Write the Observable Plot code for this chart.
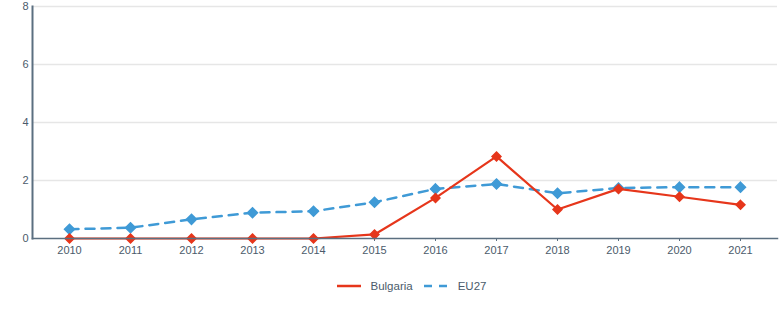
<!DOCTYPE html>
<html>
<head>
<meta charset="utf-8">
<script src="https://cdn.jsdelivr.net/npm/d3@7"></script>
<script src="https://cdn.jsdelivr.net/npm/@observablehq/plot@0.6"></script>
<style>
  html, body { margin: 0; padding: 0; background: #fff; }
  body { width: 784px; height: 314px; overflow: hidden; font-family: "Liberation Sans", Arial, sans-serif; }
  #legend { display: flex; justify-content: center; align-items: center; margin-top: 20px; padding-left: 38px; font-size: 11.5px; color: #4b5b6b; }
  .item { display: flex; align-items: center; margin: 0 5px; }
  .item svg { margin-right: 9px; }
</style>
</head>
<body>
<div id="chart"></div>
<div id="legend"></div>
<script>
const years = [2010, 2011, 2012, 2013, 2014, 2015, 2016, 2017, 2018, 2019, 2020, 2021];
const bulgaria = [0, 0, 0, 0, 0, 0.14, 1.40, 2.83, 1.00, 1.71, 1.44, 1.16];
const eu27 = [0.32, 0.37, 0.66, 0.89, 0.94, 1.25, 1.71, 1.88, 1.56, 1.74, 1.77, 1.77];
const yTicks = [0, 2, 4, 6, 8];
const seriesNames = ["Bulgaria", "EU27"];
const colors = ["#e6361b", "#3f9ad6"];

const data = [];
years.forEach((y, i) => {
  data.push({year: y, value: bulgaria[i], series: seriesNames[0]});
  data.push({year: y, value: eu27[i], series: seriesNames[1]});
});
const bg = data.filter(d => d.series === "Bulgaria");
const eu = data.filter(d => d.series === "EU27");

const axisColor = "#5b6f80";
const textColor = "#4b5b6b";

const chart = Plot.plot({
  width: 784,
  height: 260,
  marginLeft: 32,
  marginRight: 7,
  marginTop: 6,
  marginBottom: 22,
  style: {fontFamily: "Liberation Sans, Arial, sans-serif", fontSize: "11px", color: textColor, background: "#fff"},
  x: {type: "point", domain: years, padding: 0.59, label: null},
  y: {domain: [0, 8], label: null},
  color: {domain: seriesNames, range: colors},
  marks: [
    Plot.gridY(yTicks.filter(t => t > 0), {stroke: "#e6e6e6", strokeOpacity: 1, strokeWidth: 1.5}),
    Plot.axisY(yTicks, {tickSize: 0, tickPadding: 4, fill: textColor, label: null, tickFormat: d => String(d)}),
    Plot.axisX(years, {tickSize: 3, tickPadding: 5, stroke: axisColor, fill: textColor, label: null, tickFormat: d => String(d)}),
    Plot.line(eu, {x: "year", y: "value", stroke: colors[1], strokeWidth: 2.5, strokeDasharray: "9,7"}),
    Plot.dot(eu, {x: "year", y: "value", symbol: "diamond2", r: 4.5, fill: colors[1], stroke: colors[1]}),
    Plot.line(bg, {x: "year", y: "value", stroke: colors[0], strokeWidth: 2.2}),
    Plot.dot(bg, {x: "year", y: "value", symbol: "diamond2", r: 4, fill: colors[0], stroke: colors[0]}),
    Plot.frame({anchor: "left", stroke: axisColor, strokeWidth: 2}),
    Plot.frame({anchor: "bottom", stroke: axisColor, strokeWidth: 1.5})
  ]
});
document.getElementById("chart").appendChild(chart);

const legend = document.getElementById("legend");
seriesNames.forEach((name, i) => {
  const item = document.createElement("div");
  item.className = "item";
  const dash = i === 1 ? 'stroke-dasharray="8,7"' : '';
  item.innerHTML = `<svg width="26" height="8"><line x1="1" y1="4" x2="25" y2="4" stroke="${colors[i]}" stroke-width="2.5" ${dash}/></svg><span>${name}</span>`;
  legend.appendChild(item);
});
</script>
</body>
</html>
